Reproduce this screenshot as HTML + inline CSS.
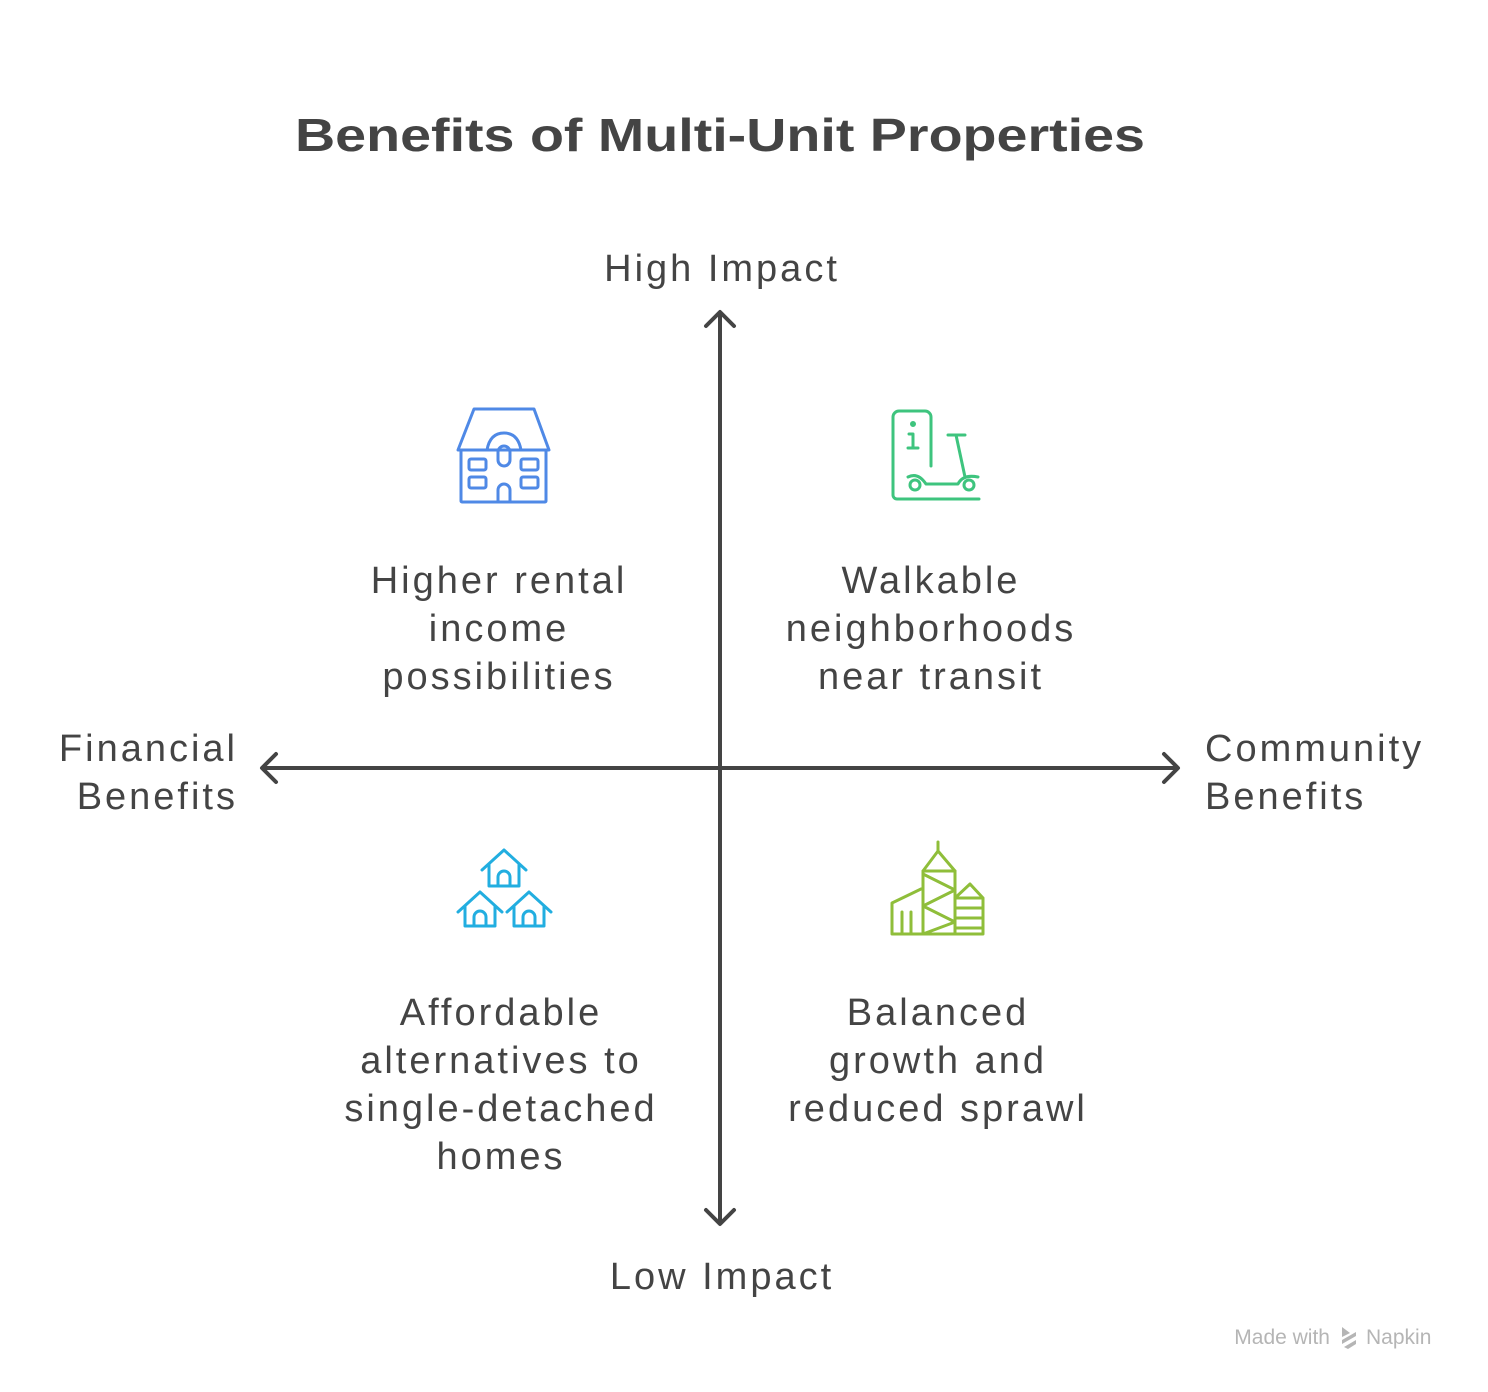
<!DOCTYPE html>
<html><head><meta charset="utf-8"><style>
html,body{margin:0;padding:0;background:#fff;}
svg{display:block;}
text{font-family:"Liberation Sans",sans-serif;fill:#444;}
.b{letter-spacing:3px;}
</style></head><body>
<svg width="1488" height="1392" viewBox="0 0 1488 1392" xmlns="http://www.w3.org/2000/svg">
<text x="295" y="151" font-size="46" font-weight="bold" textLength="850" lengthAdjust="spacingAndGlyphs" fill="#444">Benefits of Multi-Unit Properties</text>
<g font-size="38" text-anchor="middle" class="b">
<text x="722" y="281">High Impact</text>
<text x="722" y="1289">Low Impact</text>
<text x="499" y="593">Higher rental</text>
<text x="499" y="641">income</text>
<text x="499" y="689">possibilities</text>
<text x="931" y="593">Walkable</text>
<text x="931" y="641">neighborhoods</text>
<text x="931" y="689">near transit</text>
<text x="501" y="1025">Affordable</text>
<text x="501" y="1073">alternatives to</text>
<text x="501" y="1121">single-detached</text>
<text x="501" y="1169">homes</text>
<text x="938" y="1025">Balanced</text>
<text x="938" y="1073">growth and</text>
<text x="938" y="1121">reduced sprawl</text>
</g>
<g font-size="38" class="b">
<text x="238" y="761" text-anchor="end">Financial</text>
<text x="238" y="809" text-anchor="end">Benefits</text>
<text x="1205" y="761">Community</text>
<text x="1205" y="809">Benefits</text>
</g>
<g stroke="#444" stroke-width="4" fill="none" stroke-linecap="round" stroke-linejoin="round">
<line x1="720" y1="314" x2="720" y2="1222"/>
<line x1="264" y1="768" x2="1176" y2="768"/>
<polyline points="706,326 720,312 734,326"/>
<polyline points="706,1210 720,1224 734,1210"/>
<polyline points="276,754 262,768 276,782"/>
<polyline points="1164,754 1178,768 1164,782"/>
</g>
<g stroke="#4f89e6" stroke-width="3" fill="none" stroke-linecap="round" stroke-linejoin="round">
<polygon points="474,409 534,409 549,450 458,450"/>
<rect x="461" y="450" width="85" height="52" rx="1"/>
<path d="M487,450 Q490,433 504,433 Q518,433 521,450"/>
<rect x="498" y="446" width="12" height="20" rx="6"/>
<path d="M498,502 V490 a6,6 0 0 1 12,0 V502"/>
<rect x="469" y="459" width="17" height="11" rx="2"/>
<rect x="469" y="477" width="17" height="11" rx="2"/>
<rect x="521" y="459" width="17" height="11" rx="2"/>
<rect x="521" y="477" width="17" height="11" rx="2"/>
</g>
<g stroke="#3ec47e" stroke-width="3" fill="none" stroke-linecap="round" stroke-linejoin="round">
<path d="M931,466 V417 a6,6 0 0 0 -6,-6 H899 a6,6 0 0 0 -6,6 V495 a4,4 0 0 0 4,4 H979"/>
<circle cx="913" cy="424" r="1.5" fill="#3ec47e"/>
<path d="M909,434 H913 V448 M908,448 H918"/>
<path d="M948,435 H965 M956,435 L965,477"/>
<path d="M908,477 Q918,472 926,484 H958 Q963,474 978,477"/>
<circle cx="915" cy="485" r="5"/>
<circle cx="969" cy="485" r="5"/>
</g>
<g stroke="#22aee0" stroke-width="3" fill="none" stroke-linecap="round" stroke-linejoin="round">
<path d="M482,870 L504,850 L526,870 M489,864 V886 H519 V864"/>
<path d="M498,886 V877 a6,6 0 0 1 12,0 V886"/>
<path d="M458,912 L480,892 L502,912 M465,906 V926 H495 V906"/>
<path d="M474,926 V917 a6,6 0 0 1 12,0 V926"/>
<path d="M507,912 L529,892 L551,912 M514,906 V926 H544 V906"/>
<path d="M523,926 V917 a6,6 0 0 1 12,0 V926"/>
</g>
<g stroke="#8fbe3a" stroke-width="3" fill="none" stroke-linecap="round" stroke-linejoin="round">
<path d="M938,842 V851 M923,871 L938,851 L955,871 Z"/>
<path d="M923,871 V934 M955,871 V934"/>
<path d="M923,874 L955,890 L923,906 L955,922 L923,934"/>
<path d="M921,889 L892,903 V934 H983 V898 L970,884 L955,898 H983"/>
<path d="M902,912 V934 M911,912 V934"/>
<path d="M955,908 H983 M955,918 H983 M955,928 H983"/>
</g>
<text x="1330" y="1344" text-anchor="end" font-size="21" style="fill:#b5b5b5">Made with</text>
<g fill="#b5b5b5"><polygon points="1342,1327 1350,1333 1342,1337"/><polygon points="1342,1340 1356,1332 1356,1336 1342,1344"/><polygon points="1344,1347 1356,1340 1356,1344 1348,1349"/></g>
<text x="1366" y="1344" font-size="21" style="fill:#b5b5b5">Napkin</text>
</svg>
</body></html>
